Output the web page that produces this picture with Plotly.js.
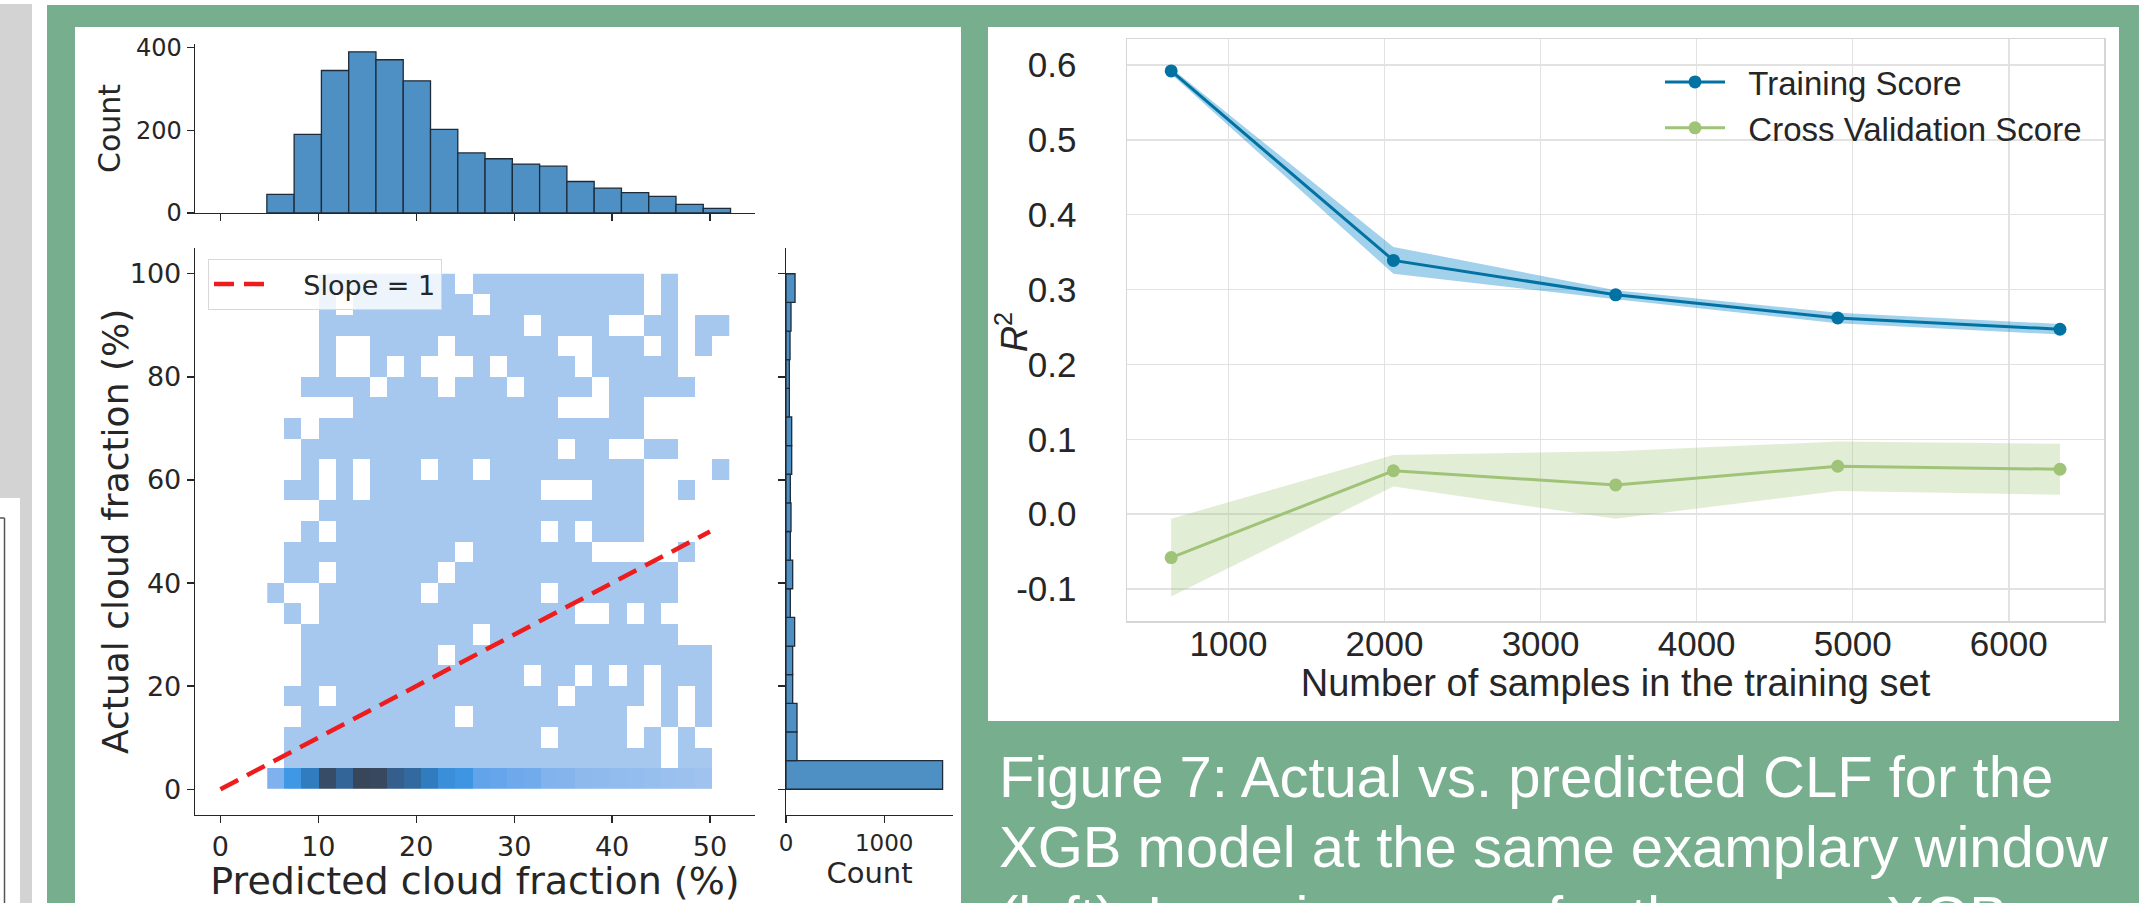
<!DOCTYPE html>
<html>
<head>
<meta charset="utf-8">
<script src="https://cdn.plot.ly/plotly-3.0.1.min.js"></script>
<style>
  html, body { margin: 0; padding: 0; background: #ffffff; }
  #chart { width: 2139px; height: 903px; }
</style>
</head>
<body>
<div id="chart"></div>
<script>
// ---------- joint distribution of predicted vs. actual cloud fraction ----------
const xBinStart = 4.78, xBinWidth = 1.749;   // predicted cloud fraction bins (%)
const yBinStart = 0, yBinWidth = 4;          // actual cloud fraction bins (%)

// cell counts, row 96-100 % first, down to row 4-8 %; '.' means no samples
const cellRows = [
  "...22222222.2222222222.2...",
  "...2.2222222.222222222.2...",
  "...222222222222.2222..22.22",
  "...2..2222.222222..222.2.2.",
  "...2..2.2...2.2222.22222...",
  "..2222.222.222.2222.22222..",
  ".....222222222222...22.....",
  ".2.2222222222222222222.....",
  "..222222222222222.22..22...",
  "..2.2.222.22.222222222....2",
  ".22.2.2222222222...222..2..",
  "...2222222222222222222.....",
  "..2.222222222222.2.222.....",
  ".2222222222.2222222.....2..",
  ".22.222222.2222222222222...",
  "2..222222.222222.2222222...",
  ".2.222222222222222..2.2....",
  "..2222222222.22222222222...",
  "..22222222.222222222222222.",
  "..2222222222222.22.2.2.222.",
  ".22.2222222222222.2222.2.2.",
  "..222222222.222222222..2.2.",
  ".222222222222222.2222.2.2..",
  ".2222222222222222222222.22."
];
// counts of the 0-4 % row (clear-sky cases), one per predicted bin
const bottomRowCounts = [33, 63, 91, 143, 114, 151, 148, 121, 109, 91, 71, 65, 48,
                         46, 42, 40, 30, 29, 23, 21, 19, 18, 15, 13, 11, 8, null];

// marginal histogram of the predicted cloud fraction
const predBinStart = 4.74, predBinWidth = 2.786;
const predCounts = [45, 190, 344, 389, 370, 319, 202, 145, 131, 118, 113, 76, 60, 49, 40, 21, 11];

// marginal histogram of the actual cloud fraction (lowest bin first)
const actBinStart = 0, actBinWidth = 100 / 18;
const actCounts = [1594, 112, 112, 68, 68, 88, 44, 68, 44, 51, 44, 58, 58, 34, 34, 41, 51, 92];

// reference line
const slopeX = [0, 50];
const slopeY = [0, 50];

// ---------- learning curve ----------
const trainSizes = [633, 2057, 3481, 4904, 6328];
const trainMean  = [0.592, 0.339, 0.293, 0.262, 0.247];
const trainStd   = [0.004, 0.018, 0.006, 0.007, 0.007];
const cvMean     = [-0.058, 0.058, 0.039, 0.064, 0.060];
const cvStd      = [0.052, 0.021, 0.045, 0.033, 0.034];

const captionLines = [
  "Figure 7: Actual vs. predicted CLF for the",
  "XGB model at the same examplary window",
  "(left): Learning curve for the same XGB"
];

// ---------- helpers ----------
const W = 2139, H = 903;
const px = v => v / W;        // page pixel -> paper x
const py = v => 1 - v / H;    // page pixel -> paper y
const gap = n => '\u00a0'.repeat(n);   // space between a legend sample and its label

const centers = (start, width, n) => Array.from({length: n}, (_, i) => start + width * (i + 0.5));

const nCols = cellRows[0].length;
const nRows = cellRows.length + 1;
const heatX = centers(xBinStart, xBinWidth, nCols);
const heatY = centers(yBinStart, yBinWidth, nRows);
const heatZ = [bottomRowCounts.slice()];
for (let j = cellRows.length - 1; j >= 0; j--) {
  heatZ.push(cellRows[j].split('').map(c => c === '.' ? null : Number(c)));
}

const predX = centers(predBinStart, predBinWidth, predCounts.length);
const actY = centers(actBinStart, actBinWidth, actCounts.length);

const upper = (m, s) => m.map((v, i) => v + s[i]);
const lower = (m, s) => m.map((v, i) => v - s[i]);

// ---------- styles ----------
const dark = '#262626';
const dv = 'DejaVu Sans, sans-serif';
const ar = 'Liberation Sans, Arial, sans-serif';
const histFill = '#4f90c4';
const histEdge = '#1d2b3a';
const trainColor = '#0272a2';
const cvColor = '#9fc377';

const seabornBlues = [
  [0.00, '#a8c8ee'], [0.10, '#97bfee'], [0.20, '#83b3ed'], [0.30, '#68a6eb'],
  [0.42, '#3f97e3'], [0.50, '#3889d5'], [0.60, '#317cc0'], [0.70, '#316da6'],
  [0.80, '#345f8c'], [0.90, '#375273'], [1.00, '#38465a']
];

const traces = [
  {
    type: 'heatmap', x: heatX, y: heatY, z: heatZ,
    zmin: 0, zmax: Math.max(...bottomRowCounts.filter(v => v !== null)),
    colorscale: seabornBlues, showscale: false, hoverinfo: 'skip',
    xaxis: 'x', yaxis: 'y'
  },
  {
    type: 'scatter', mode: 'lines', x: slopeX, y: slopeY, name: gap(4) + 'Slope = 1',
    line: {color: '#ee1c1c', width: 4.5, dash: '20px,10px'},
    xaxis: 'x', yaxis: 'y', legend: 'legend'
  },
  {
    type: 'bar', x: predX, y: predCounts, width: predCounts.map(() => predBinWidth),
    marker: {color: histFill, line: {color: histEdge, width: 1.3}},
    xaxis: 'x2', yaxis: 'y2', showlegend: false, hoverinfo: 'skip'
  },
  {
    type: 'bar', orientation: 'h', y: actY, x: actCounts, width: actCounts.map(() => actBinWidth),
    marker: {color: histFill, line: {color: histEdge, width: 1.3}},
    xaxis: 'x3', yaxis: 'y3', showlegend: false, hoverinfo: 'skip'
  },
  // score bands (mean +/- std)
  {
    type: 'scatter', mode: 'lines', x: trainSizes, y: upper(trainMean, trainStd),
    line: {width: 0}, xaxis: 'x4', yaxis: 'y4', showlegend: false, hoverinfo: 'skip'
  },
  {
    type: 'scatter', mode: 'lines', x: trainSizes, y: lower(trainMean, trainStd),
    line: {width: 0}, fill: 'tonexty', fillcolor: 'rgba(20,140,205,0.4)',
    xaxis: 'x4', yaxis: 'y4', showlegend: false, hoverinfo: 'skip'
  },
  {
    type: 'scatter', mode: 'lines', x: trainSizes, y: upper(cvMean, cvStd),
    line: {width: 0}, xaxis: 'x4', yaxis: 'y4', showlegend: false, hoverinfo: 'skip'
  },
  {
    type: 'scatter', mode: 'lines', x: trainSizes, y: lower(cvMean, cvStd),
    line: {width: 0}, fill: 'tonexty', fillcolor: 'rgba(159,195,119,0.3)',
    xaxis: 'x4', yaxis: 'y4', showlegend: false, hoverinfo: 'skip'
  },
  {
    type: 'scatter', mode: 'lines+markers', x: trainSizes, y: trainMean, name: gap(2) + 'Training Score',
    line: {color: trainColor, width: 3}, marker: {color: trainColor, size: 13},
    xaxis: 'x4', yaxis: 'y4', legend: 'legend2'
  },
  {
    type: 'scatter', mode: 'lines+markers', x: trainSizes, y: cvMean, name: gap(2) + 'Cross Validation Score',
    line: {color: cvColor, width: 3}, marker: {color: cvColor, size: 13},
    xaxis: 'x4', yaxis: 'y4', legend: 'legend2'
  }
];

const spine = {
  showline: true, linecolor: dark, linewidth: 1.3,
  ticks: 'outside', ticklen: 7, tickwidth: 1.3, tickcolor: dark,
  showgrid: false, zeroline: false, fixedrange: true
};

const jointX = [px(195), px(755)];
const jointY = [py(815), py(248)];
const xRange = [-2.6, 54.6];
const yRange = [-5, 105];

const lcAxis = {
  showline: true, mirror: true, linecolor: '#d6d6d6', linewidth: 1.5,
  showgrid: true, gridcolor: '#e2e2e2', gridwidth: 1.5,
  zeroline: false, ticks: '', fixedrange: true,
  tickfont: {family: ar, size: 35, color: dark}
};

const layout = {
  width: W, height: H,
  margin: {l: 0, r: 0, t: 0, b: 0, pad: 0},
  paper_bgcolor: '#ffffff',
  plot_bgcolor: '#ffffff',
  bargap: 0,
  xaxis: Object.assign({}, spine, {
    domain: jointX, range: xRange, anchor: 'y',
    tickvals: [0, 10, 20, 30, 40, 50],
    tickfont: {family: dv, size: 27, color: dark},
    title: {text: 'Predicted cloud fraction (%)', font: {family: dv, size: 38, color: dark}, standoff: 5}
  }),
  yaxis: Object.assign({}, spine, {
    domain: jointY, range: yRange, anchor: 'x',
    tickvals: [0, 20, 40, 60, 80, 100],
    tickfont: {family: dv, size: 27, color: dark}
  }),
  xaxis2: Object.assign({}, spine, {
    domain: jointX, range: xRange, anchor: 'y2',
    tickvals: [0, 10, 20, 30, 40, 50], showticklabels: false
  }),
  yaxis2: Object.assign({}, spine, {
    domain: [py(213), py(44)], range: [0, 408], anchor: 'x2',
    tickvals: [0, 200, 400],
    tickfont: {family: dv, size: 24, color: dark},
    title: {text: 'Count', font: {family: dv, size: 30, color: dark}, standoff: 6}
  }),
  xaxis3: Object.assign({}, spine, {
    domain: [px(786), px(953)], range: [0, 1700], anchor: 'y3',
    tickvals: [0, 1000],
    tickfont: {family: dv, size: 23, color: dark},
    title: {text: 'Count', font: {family: dv, size: 29, color: dark}, standoff: 4}
  }),
  yaxis3: Object.assign({}, spine, {
    domain: jointY, range: yRange, anchor: 'x3',
    tickvals: [0, 20, 40, 60, 80, 100], showticklabels: false
  }),
  xaxis4: Object.assign({}, lcAxis, {
    domain: [px(1127), px(2104)], range: [350, 6610], anchor: 'y4',
    tickvals: [1000, 2000, 3000, 4000, 5000, 6000],
    ticklabelstandoff: -9,
    title: {text: 'Number of samples in the training set', font: {family: ar, size: 38, color: dark}, standoff: 8}
  }),
  yaxis4: Object.assign({}, lcAxis, {
    domain: [py(621), py(39)], range: [-0.1427, 0.6347], anchor: 'x4',
    tickvals: [-0.1, 0, 0.1, 0.2, 0.3, 0.4, 0.5, 0.6],
    ticktext: ['-0.1', '0.0', '0.1', '0.2', '0.3', '0.4', '0.5', '0.6'],
    ticklabelstandoff: 42
  }),
  legend: {
    x: px(208), y: py(259), xanchor: 'left', yanchor: 'top',
    bgcolor: 'rgba(255,255,255,0.8)', bordercolor: '#d8d8d8', borderwidth: 1,
    font: {family: dv, size: 27, color: dark}, itemwidth: 50
  },
  legend2: {
    x: px(1660), y: py(54), xanchor: 'left', yanchor: 'top',
    bgcolor: 'rgba(0,0,0,0)', borderwidth: 0,
    font: {family: ar, size: 33, color: dark}, itemwidth: 60, tracegroupgap: 0
  },
  shapes: [
    // grey strip of the neighbouring column
    {type: 'rect', xref: 'paper', yref: 'paper', layer: 'below',
     x0: 0, x1: px(32), y0: py(498), y1: py(4), fillcolor: '#d3d3d3', line: {width: 0}},
    {type: 'rect', xref: 'paper', yref: 'paper', layer: 'below',
     x0: px(20), x1: px(32), y0: 0, y1: py(498), fillcolor: '#d3d3d3', line: {width: 0}},
    {type: 'line', xref: 'paper', yref: 'paper', layer: 'below',
     x0: 0, x1: px(4.5), y0: py(518), y1: py(518), line: {color: '#555555', width: 1.5}},
    {type: 'line', xref: 'paper', yref: 'paper', layer: 'below',
     x0: px(4.5), x1: px(4.5), y0: py(518), y1: 0, line: {color: '#555555', width: 1.5}},
    // green frame of the figure block
    {type: 'rect', xref: 'paper', yref: 'paper', layer: 'below',
     x0: px(47), x1: 1, y0: 0, y1: py(5), fillcolor: '#76ae8e', line: {width: 0}},
    // white panels behind the two figures
    {type: 'rect', xref: 'paper', yref: 'paper', layer: 'below',
     x0: px(75), x1: px(961), y0: 0, y1: py(27), fillcolor: '#ffffff', line: {width: 0}},
    {type: 'rect', xref: 'paper', yref: 'paper', layer: 'below',
     x0: px(988), x1: px(2119), y0: py(721), y1: py(27), fillcolor: '#ffffff', line: {width: 0}}
  ],
  annotations: [
    // vertical axis titles
    {xref: 'paper', yref: 'paper', x: px(115), y: py(532), xanchor: 'center', yanchor: 'middle',
     textangle: -90, showarrow: false, text: 'Actual cloud fraction (%)',
     font: {family: dv, size: 36, color: dark}},
    {xref: 'paper', yref: 'paper', x: px(1012), y: py(332), xanchor: 'center', yanchor: 'middle',
     textangle: -90, showarrow: false, text: '<i>R</i><sup>2</sup>',
     font: {family: ar, size: 36, color: dark}}
  ].concat(captionLines.map((t, i) => ({
    xref: 'paper', yref: 'paper', x: px(997), y: py(776 + 70 * i),
    xanchor: 'left', yanchor: 'middle', showarrow: false, text: t,
    font: {family: ar, size: 58, color: '#ffffff'}
  })))
};

Plotly.newPlot('chart', traces, layout, {displayModeBar: false, staticPlot: true});
</script>
</body>
</html>
